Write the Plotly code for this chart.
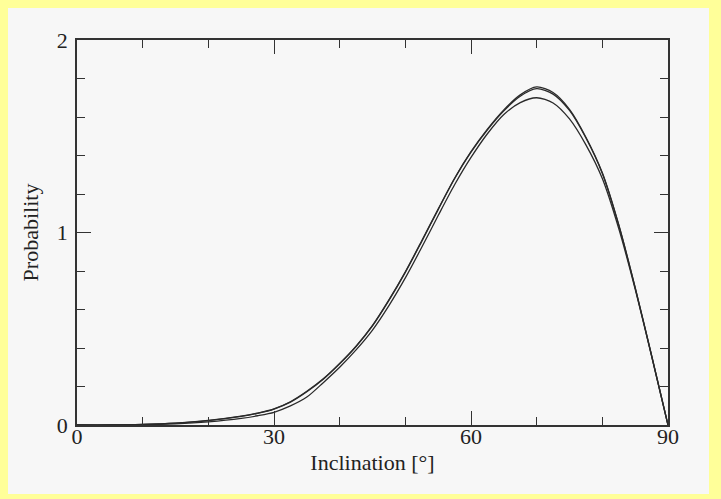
import plotly.graph_objects as go

inclination = [0, 5, 10, 15, 20, 25, 27.5, 30, 32.5, 35, 37.5, 40, 42.5, 45, 47.5, 50, 52.5, 55, 57.5,
               60, 62.5, 65, 67.5, 70, 72.5, 75, 77.5, 80, 82.5, 85, 87.5, 90]
prob_a = [0, 0, 0.003, 0.01, 0.024, 0.046, 0.062, 0.084, 0.121, 0.175, 0.24, 0.32, 0.41, 0.517, 0.65, 0.796,
          0.957, 1.122, 1.282, 1.42, 1.537, 1.637, 1.715, 1.756, 1.727, 1.64, 1.495, 1.31, 1.04, 0.714, 0.362, 0]
prob_b = [0, 0, 0.003, 0.01, 0.023, 0.045, 0.061, 0.083, 0.119, 0.173, 0.238, 0.318, 0.408, 0.515, 0.647, 0.793,
          0.954, 1.119, 1.279, 1.417, 1.533, 1.632, 1.708, 1.747, 1.719, 1.634, 1.491, 1.307, 1.038, 0.713, 0.361, 0]
prob_c = [0, 0, 0.002, 0.006, 0.016, 0.034, 0.048, 0.066, 0.099, 0.145, 0.22, 0.30, 0.39, 0.493, 0.62, 0.764,
          0.923, 1.088, 1.248, 1.39, 1.513, 1.613, 1.675, 1.70, 1.673, 1.59, 1.455, 1.28, 1.02, 0.706, 0.358, 0]

x_ticks = [0, 30, 60, 90]
y_ticks = [0, 1, 2]

# the page places the figure 8px in from the top-left corner
W, H = 713, 491
L, T = 69, 32
pw, ph = 591, 385
R, B = W - L - pw, H - T - ph

fig = go.Figure()
for p in (prob_a, prob_b, prob_c):
    fig.add_trace(go.Scatter(x=inclination, y=p, mode="lines",
                             line=dict(color="#2a2a2a", width=1.3, shape="spline", smoothing=0.8),
                             showlegend=False, hoverinfo="skip"))

fig.add_shape(type="rect", xref="paper", yref="paper",
              x0=(0 - L) / pw, x1=(701 - L) / pw,
              y0=(T + ph - 486) / ph, y1=(T + ph - 0) / ph,
              fillcolor="#f7f7f7", line=dict(width=0), layer="below")

axis_font = dict(family="Liberation Serif", size=22, color="#222")
fig.update_layout(
    width=W, height=H,
    margin=dict(l=L, r=R, t=T, b=B),
    paper_bgcolor="#ffff99",
    plot_bgcolor="rgba(0,0,0,0)",
    font=axis_font,
    xaxis=dict(range=[0, 90], tickvals=x_ticks, ticks="inside", ticklen=14, tickwidth=1.3,
               tickcolor="#333", showline=True, linecolor="#333", linewidth=1.6, mirror="allticks",
               showgrid=False, zeroline=False, tickfont=axis_font, ticklabelstandoff=-9,
               minor=dict(dtick=10, tick0=0, ticks="inside", ticklen=8, tickwidth=1.3, tickcolor="#333", showgrid=False),
               title=dict(text="Inclination [°]", font=axis_font, standoff=6)),
    yaxis=dict(range=[0, 2], tickvals=y_ticks, ticks="inside", ticklen=14, tickwidth=1.3,
               tickcolor="#333", showline=True, linecolor="#333", linewidth=1.6, mirror="allticks",
               showgrid=False, zeroline=False, tickfont=axis_font, ticklabelstandoff=3,
               minor=dict(dtick=0.2, tick0=0, ticks="inside", ticklen=8, tickwidth=1.3, tickcolor="#333", showgrid=False),
               title=dict(text="Probability", font=axis_font, standoff=12)),
)

fig.write_html("out.html", post_script="document.body.style.background='#ffff99';")
